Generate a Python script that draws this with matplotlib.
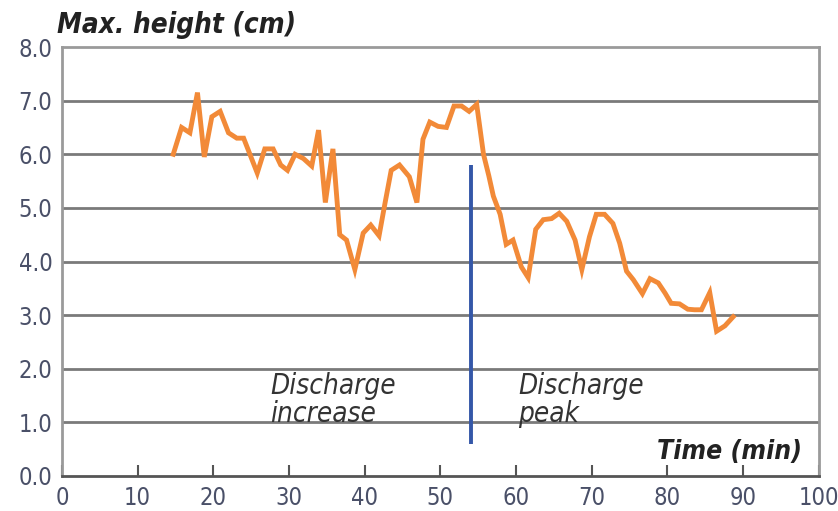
import matplotlib
matplotlib.use("Agg")
import matplotlib.pyplot as plt

plt.rcParams["font.family"] = ["DejaVu Sans"]
plt.rcParams["font.stretch"] = "condensed"

# values
time_min = [14.7, 15.8, 16.9, 17.9, 18.8, 19.8, 20.9, 22.0, 23.1, 24.0,
            25.8, 26.8, 27.9, 28.9, 29.8, 30.8, 31.9, 33.0, 33.9, 34.8,
            35.8, 36.7, 37.6, 38.7, 39.8, 40.8, 41.9, 42.7, 43.5, 44.6,
            45.9, 46.9, 47.7, 48.6, 49.7, 50.8, 51.8, 52.8, 53.8, 54.8,
            55.7, 56.4, 57.0, 57.9, 58.7, 59.6, 60.7, 61.6, 62.6, 63.6,
            64.7, 65.7, 66.7, 67.8, 68.7, 69.7, 70.6, 71.7, 72.8, 73.7,
            74.6, 75.5, 76.7, 77.7, 78.8, 79.7, 80.5, 81.6, 82.7, 83.6,
            84.5, 85.6, 86.5, 87.6, 88.7]
max_height = [6.00, 6.50, 6.40, 7.15, 5.95, 6.70, 6.80, 6.40, 6.30, 6.30,
              5.65, 6.10, 6.10, 5.80, 5.70, 6.00, 5.92, 5.78, 6.45, 5.10,
              6.10, 4.50, 4.40, 3.85, 4.53, 4.68, 4.48, 5.10, 5.70, 5.80,
              5.58, 5.10, 6.28, 6.60, 6.52, 6.50, 6.90, 6.90, 6.80, 6.93,
              6.00, 5.60, 5.22, 4.88, 4.32, 4.40, 3.90, 3.70, 4.60, 4.78,
              4.80, 4.90, 4.75, 4.40, 3.85, 4.46, 4.88, 4.88, 4.71, 4.34,
              3.82, 3.66, 3.40, 3.68, 3.60, 3.41, 3.22, 3.21, 3.11, 3.10,
              3.10, 3.42, 2.70, 2.80, 2.97]
peak_time = 54
peak_range = (0.6, 5.8)
x_ticks = list(range(0, 101, 10))
y_ticks = [i * 1.0 for i in range(9)]

fig = plt.figure(figsize=(8.38, 5.11), dpi=100)
ax = fig.add_axes([0.074, 0.0685, 0.903, 0.8395])

for y in y_ticks[1:-1]:
    ax.axhline(y, color="#7a7a7a", lw=2.0, zorder=1)

ax.plot(time_min, max_height, color="#f28a38", lw=3.5, zorder=3,
        solid_joinstyle="miter")
ax.vlines(peak_time, *peak_range, color="#3457a8", lw=2.8, zorder=4)

ax.set_xlim(0, 100)
ax.set_ylim(0, 8)
ax.set_xticks(x_ticks)
ax.set_yticks(y_ticks)
ax.set_yticklabels([f"{v:.1f}" for v in y_ticks])
ax.tick_params(axis="x", direction="in", length=8, width=1.5, color="#555555",
               labelsize=17, labelcolor="#4a5068", pad=7)
ax.tick_params(axis="y", length=0, labelsize=17, labelcolor="#4a5068", pad=7)

for side in ["left", "right", "top"]:
    ax.spines[side].set_color("#9a9a9a")
    ax.spines[side].set_linewidth(2)
ax.spines["bottom"].set_color("#555555")
ax.spines["bottom"].set_linewidth(2)

fig.text(0.068, 0.951, "Max. height (cm)", fontsize=20, fontweight="bold",
         fontstyle="italic", color="#222222", ha="left", va="center")
ax.text(97.8, 0.45, "Time (min)", fontsize=19, fontweight="bold",
        fontstyle="italic", color="#222222", ha="right", va="center")
ax.text(27.5, 1.0, "Discharge\nincrease", fontsize=20, fontstyle="italic",
        color="#333333", ha="left", va="baseline", linespacing=1.0)
ax.text(60.3, 1.0, "Discharge\npeak", fontsize=20, fontstyle="italic",
        color="#333333", ha="left", va="baseline", linespacing=1.0)

fig.savefig("out.png", dpi=100)
